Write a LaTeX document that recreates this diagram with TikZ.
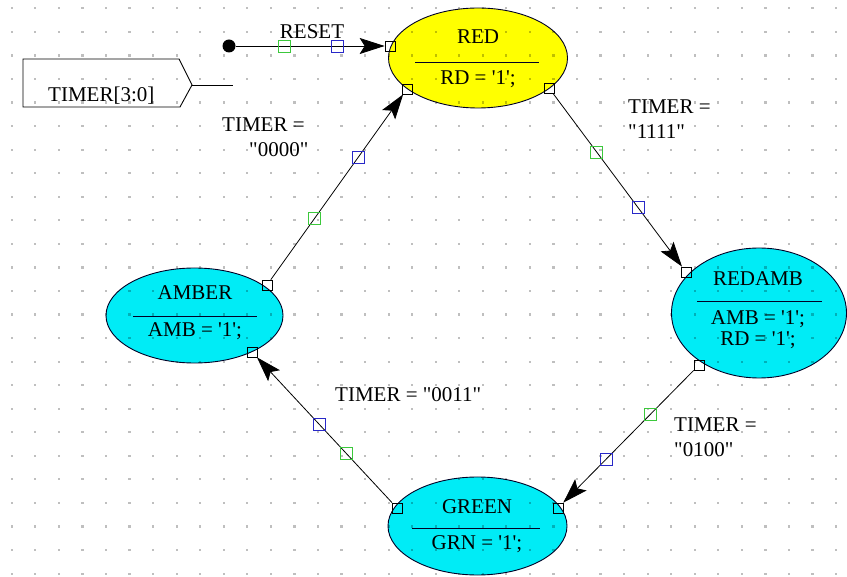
\documentclass[tikz,border=0pt]{standalone}
\usepackage{fontspec}
\newfontfamily\diagfont{Liberation Serif}
\usetikzlibrary{shapes.geometric,arrows.meta}
\definecolor{stcyan}{RGB}{0,236,246}
\definecolor{styellow}{RGB}{255,255,0}
\definecolor{mkgreen}{RGB}{60,200,60}
\definecolor{mkblue}{RGB}{40,40,200}
\begin{document}
\begin{tikzpicture}[x=1pt,y=-1pt,
  state/.style={ellipse, draw=black!85!blue, line width=0.9pt, inner sep=0pt},
  port/.style={draw=black, rectangle, minimum size=10pt, inner sep=0pt, line width=0.7pt},
  gmark/.style={draw=mkgreen, rectangle, minimum size=12pt, inner sep=0pt, line width=0.8pt},
  bmark/.style={draw=mkblue, rectangle, minimum size=12pt, inner sep=0pt, line width=0.8pt},
  trans/.style={draw=black, line width=0.8pt, -{Stealth[length=25pt,width=16pt,inset=5pt]}},
  lbl/.style={font=\diagfont\fontsize{21}{25}\selectfont, inner sep=0pt, text height=14pt, text depth=0pt},
  sep/.style={draw=black!85!blue, line width=0.9pt},
]
\useasboundingbox (0,0) rectangle (847,577);
\fill[white] (0,0) rectangle (847,577);
% states
\node[state, fill=styellow, minimum width=179pt, minimum height=100pt] (red) at (478,58) {};
\node[state, fill=stcyan, minimum width=175pt, minimum height=130pt] (redamb) at (759,313) {};
\node[state, fill=stcyan, minimum width=177pt, minimum height=95pt] (amber) at (194.5,315.5) {};
\node[state, fill=stcyan, minimum width=179pt, minimum height=98pt] (green) at (477.5,526) {};
% grid dots
\foreach \i in {0,...,35} \foreach \j in {0,...,24}
  \fill[black, opacity=0.25] ({11.7+23.55*\i-1},{8.3+23.55*\j-1}) rectangle +(2.2,2.2);
% state texts
\node[lbl] (redN) at (478,37) {RED};
\draw[sep] (415,62) -- (539,62);
\node[lbl] (redA) at (478,78) {RD = '1';};
\node[lbl] (ramN) at (758,279) {REDAMB};
\draw[sep] (697,301) -- (822,301);
\node[lbl] (ramA) at (758,318) {AMB = '1';};
\node[lbl] (ramB2) at (758,339) {RD = '1';};
\node[lbl] (ambN) at (195,293) {AMBER};
\draw[sep] (133,316) -- (257,316);
\node[lbl] (ambA) at (195,330) {AMB = '1';};
\node[lbl] (grnN) at (477,507) {GREEN};
\draw[sep] (412,528) -- (540,528);
\node[lbl] (grnA) at (477,543) {GRN = '1';};
% ports
\node[port] (redL) at (390,46) {};
\node[port] (redBL) at (407,89) {};
\node[port] (redBR) at (549,88) {};
\node[port] (ramTL) at (686,272) {};
\node[port] (ramB) at (699,365) {};
\node[port] (ambTR) at (267,285) {};
\node[port] (ambBR) at (252,352) {};
\node[port] (grnL) at (397,508) {};
\node[port] (grnR) at (558,508) {};
% reset
\node[circle, fill=black, minimum size=13pt, inner sep=0pt] (rdot) at (229,46) {};
\draw[trans] (rdot) -- node[gmark, pos=0.33] (m0g) {} node[bmark, pos=0.68] (m0b) {} (redL);
\node[lbl] (resetL) at (312,32) {RESET};
% transitions
\draw[trans] (redBR) -- node[gmark, pos=0.34] (m1g) {} node[bmark, pos=0.66] (m1b) {} (ramTL);
\draw[trans] (ramB) -- node[gmark, pos=0.33] (m2g) {} node[bmark, pos=0.67] (m2b) {} (grnR);
\draw[trans] (grnL) -- node[gmark, pos=0.34] (m3g) {} node[bmark, pos=0.54] (m3b) {} (ambBR);
\draw[trans] (ambTR) -- node[gmark, pos=0.33] (m4g) {} node[bmark, pos=0.66] (m4b) {} (redBL);
% labels
\node[lbl, anchor=west] (l1a) at (628,107) {TIMER =};
\node[lbl, anchor=west] (l1b) at (628,132) {"1111"};
\node[lbl, anchor=west] (l2a) at (674,425) {TIMER =};
\node[lbl, anchor=west] (l2b) at (674,450) {"0100"};
\node[lbl, anchor=west] (l3) at (335,395) {TIMER = "0011"};
\node[lbl, anchor=west] (l4a) at (222,125) {TIMER =};
\node[lbl, anchor=west] (l4b) at (249,150) {"0000"};
% input port
\draw[line width=0.9pt] (23,59) -- (179,59) -- (192,85) -- (180,107) -- (23,107) -- cycle;
\node[lbl, anchor=west] (timerL) at (48,95) {TIMER[3:0]};
\coordinate (tin) at (192,85);
\coordinate (tend) at (233,85);
\draw[line width=0.9pt] (tin) -- (tend);
\end{tikzpicture}
\end{document}
